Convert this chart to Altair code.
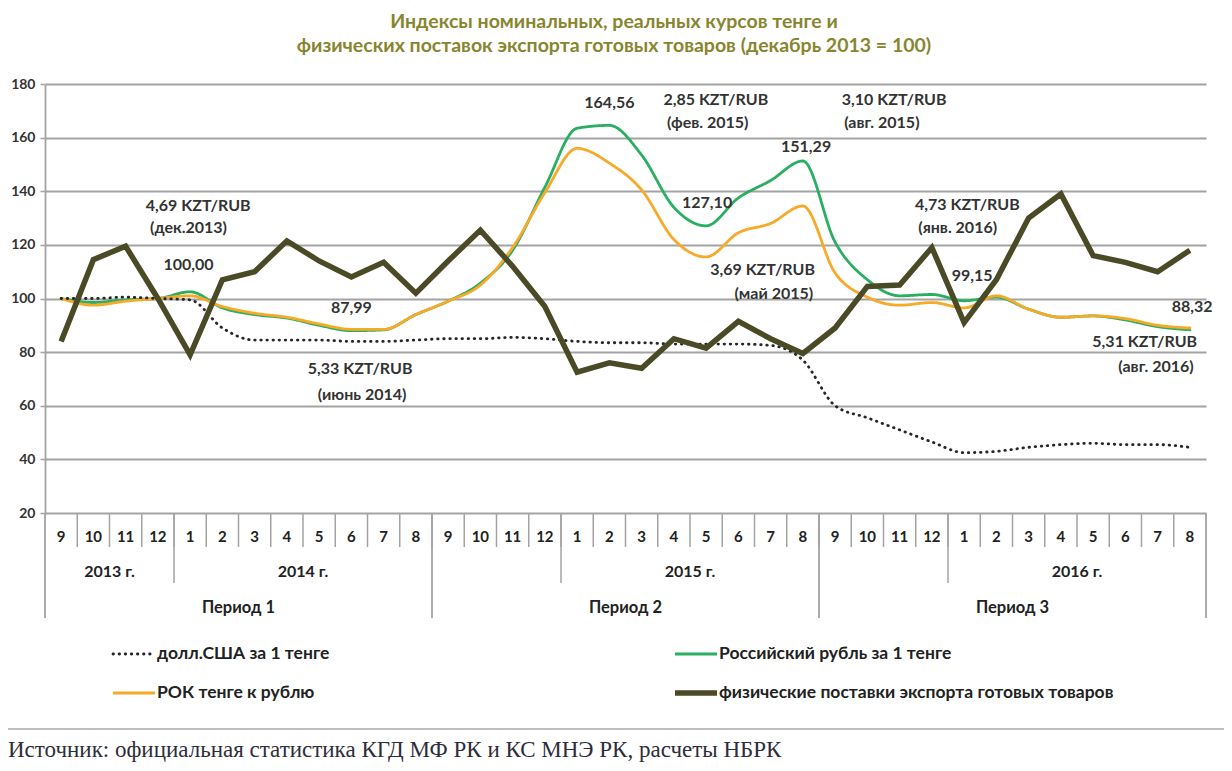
import altair as alt
import pandas as pd

# ---------------- data ----------------
months = [9, 10, 11, 12] + list(range(1, 13)) + list(range(1, 13)) + list(range(1, 9))
year_labels = (["2013 г.", "", "", "", "2014 г."] + [""] * 11 + ["2015 г."] + [""] * 11
               + ["2016 г."] + [""] * 7)
period_labels = ["Период 1"] * 12 + ["Период 2"] * 12 + ["Период 3"] * 12

series_names = [
    "долл.США за 1 тенге",
    "Российский рубль за 1 тенге",
    "РОК тенге к рублю",
    "физические поставки экспорта готовых товаров",
]

usd = [100, 100, 100.5, 100, 99.5, 89, 84.5, 84.5, 84.5, 84, 84, 84.5,
       85, 85, 85.5, 85, 84, 83.5, 83.5, 83, 83, 83, 82.5, 77,
       60, 55.5, 51, 46.5, 42.5, 43, 44.5, 45.5, 46, 45.5, 45.5, 44.5]
rub = [100, 98.5, 99.5, 100, 102.5, 96.5, 94, 92.7, 90, 88, 88.3, 94,
       99, 105.7, 118, 141.5, 163.5, 164.56, 153.5, 134, 127.1, 137.5, 144, 151.29,
       121, 107, 101, 101.5, 99.15, 100.5, 96, 93, 93.5, 92, 89.5, 88.32]
reer = [100, 97.5, 99, 100, 101, 97, 94.5, 93, 90.5, 88.5, 88.5, 94,
        99, 105, 119, 139.5, 156, 150.5, 140.5, 122, 115.5, 124.5, 128, 134.5,
        109.5, 100.5, 97.5, 98.5, 96.5, 101, 96, 93, 93.5, 92.5, 90, 89]
export = [84, 114.5, 119.5, 100, 79, 107, 110, 121.5, 114, 108, 113.5, 102,
          114, 125.5, 112, 97, 72.5, 76, 74, 85, 81.5, 91.5, 85, 79.5,
          89, 104.5, 105, 119, 91, 107, 130, 139, 116, 113.5, 110, 118]

ann_text = ["4,69 KZT/RUB", "(дек.2013)", "100,00", "87,99", "5,33 KZT/RUB", "(июнь 2014)",
            "164,56", "2,85 KZT/RUB", "(фев. 2015)", "151,29", "127,10", "3,69 KZT/RUB",
            "(май 2015)", "3,10 KZT/RUB", "(авг. 2015)", "4,73 KZT/RUB", "(янв. 2016)",
            "99,15", "88,32", "5,31 KZT/RUB", "(авг. 2016)"]
ann_month = [4.25, 3.95, 3.95, 9.0, 9.27, 9.33,
             17.0, 20.3, 20.05, 23.1, 20.03, 21.75,
             22.1, 25.83, 25.45, 28.1, 27.8,
             28.25, 35.07, 33.6, 33.95]
ann_value = [134.4, 126.2, 112.5, 96.3, 73.7, 64.0,
             172.9, 174.0, 165.5, 156.6, 135.6, 110.6,
             101.8, 174.0, 165.5, 134.9, 126.3,
             108.4, 96.8, 83.7, 74.5]

title_lines = ["Индексы номинальных, реальных курсов тенге и",
               "физических поставок экспорта готовых товаров (декабрь 2013 = 100)"]
source_text = "Источник: официальная статистика КГД МФ РК и КС МНЭ РК, расчеты НБРК"

# ---------------- styles ----------------
FONT = "Lato"
colors = ["#262626", "#2aae62", "#f7a928", "#4b4a27"]
dashes = [[0.5, 5.6], [1, 0], [1, 0], [1, 0]]
TXT = "#333333"
GRID = "#a3a3a3"
W, H = 1161, 429

n = len(months)
idx = list(range(n))

series_vals = {series_names[0]: usd, series_names[1]: rub,
               series_names[2]: reer, series_names[3]: export}
draw_order = [series_names[1], series_names[2], series_names[0], series_names[3]]
rows = []
for s in draw_order:
    for i, v in zip(idx, series_vals[s]):
        rows.append({"i": i, "v": v, "series": s})
df = pd.DataFrame(rows)

xscale = alt.Scale(domain=[-0.5, n - 0.5], nice=False, zero=False)
yscale = alt.Scale(domain=[20, 180], nice=False, zero=False)
cscale = alt.Scale(domain=series_names, range=colors)
dscale = alt.Scale(domain=series_names, range=dashes)

yaxis = alt.Axis(values=list(range(20, 181, 20)), grid=True, gridColor=GRID, gridWidth=1.8,
                 domainColor=GRID, domainWidth=1.8, tickColor=GRID, tickWidth=1.5, tickSize=5,
                 labelFont=FONT, labelFontSize=14, labelFontWeight="bold", labelColor=TXT,
                 labelPadding=5, title=None)

base = alt.Chart(df)
thin = base.transform_filter(
    alt.datum.series != series_names[3]
).mark_line(interpolate="monotone", strokeWidth=2.8, strokeCap="round").encode(
    x=alt.X("i:Q", scale=xscale, axis=None),
    y=alt.Y("v:Q", scale=yscale, axis=yaxis),
    color=alt.Color("series:N", scale=cscale, legend=None),
    strokeDash=alt.StrokeDash("series:N", scale=dscale, legend=None),
    detail="series:N",
)
thick = base.transform_filter(
    alt.datum.series == series_names[3]
).mark_line(strokeWidth=5.5, strokeJoin="miter").encode(
    x=alt.X("i:Q", scale=xscale, axis=None),
    y=alt.Y("v:Q", scale=yscale, axis=yaxis),
    color=alt.Color("series:N", scale=cscale, legend=None),
)

# ---------------- category table under the plot ----------------
cat = pd.DataFrame({"i": idx, "m": [str(m) for m in months],
                    "year": year_labels, "period": period_labels})
month_text = alt.Chart(cat).mark_text(font=FONT, fontSize=15, fontWeight="bold",
                                      color="#222222", baseline="middle").encode(
    x=alt.X("i:Q", scale=xscale, axis=None), y=alt.value(453), text="m:N")

bounds = pd.DataFrame({"b": [i - 0.5 for i in range(1, n)]})
month_sep = alt.Chart(bounds).mark_rule(color=GRID, strokeWidth=1.5).encode(
    x=alt.X("b:Q", scale=xscale, axis=None), y=alt.value(H), y2=alt.value(463))

# year groups (a label starts a group; groups break at period boundaries)
groups = []
cur = None
for i in idx:
    new_period = i == 0 or period_labels[i] != period_labels[i - 1]
    if year_labels[i] or new_period:
        cur = {"label": year_labels[i], "start": i, "end": i}
        groups.append(cur)
    else:
        cur["end"] = i
ydf = pd.DataFrame([{"label": g["label"], "c": (g["start"] + g["end"]) / 2} for g in groups if g["label"]])
year_text = alt.Chart(ydf).mark_text(font=FONT, fontSize=16, fontWeight="bold",
                                     color="#222222", baseline="middle").encode(
    x=alt.X("c:Q", scale=xscale, axis=None), y=alt.value(488), text="label:N")
ysep = pd.DataFrame({"b": [i - 0.5 for i in idx if i > 0 and year_labels[i]]})
year_sep = alt.Chart(ysep).mark_rule(color=GRID, strokeWidth=1.5).encode(
    x=alt.X("b:Q", scale=xscale, axis=None), y=alt.value(H), y2=alt.value(499))

pstarts = [i for i in idx if i == 0 or period_labels[i] != period_labels[i - 1]]
pdf = pd.DataFrame({"label": [period_labels[s] for s in pstarts],
                    "c": [(s + (pstarts[k + 1] if k + 1 < len(pstarts) else n) - 1) / 2
                          for k, s in enumerate(pstarts)]})
period_text = alt.Chart(pdf).mark_text(font=FONT, fontSize=16.5, fontWeight="bold",
                                       color="#222222", baseline="middle").encode(
    x=alt.X("c:Q", scale=xscale, axis=None), y=alt.value(524), text="label:N")
psep = pd.DataFrame({"b": [s - 0.5 for s in pstarts] + [n - 0.5]})
period_sep = alt.Chart(psep).mark_rule(color=GRID, strokeWidth=1.8).encode(
    x=alt.X("b:Q", scale=xscale, axis=None), y=alt.value(H), y2=alt.value(534))

# ---------------- annotations ----------------
adf = pd.DataFrame({"t": ann_text, "i": ann_month, "v": ann_value})
ann = alt.Chart(adf).mark_text(font=FONT, fontSize=16, fontWeight="bold", color=TXT,
                               baseline="middle").encode(
    x=alt.X("i:Q", scale=xscale, axis=None), y=alt.Y("v:Q", scale=yscale, axis=yaxis), text="t:N")

# ---------------- title & source ----------------
tdf = pd.DataFrame({"t": title_lines})
title1 = alt.Chart(tdf.iloc[[0]]).mark_text(font=FONT, fontSize=19.5, fontWeight="bold",
                                            color="#87862f", baseline="middle").encode(
    x=alt.value(569), y=alt.value(-62), text="t:N")
title2 = alt.Chart(tdf.iloc[[1]]).mark_text(font=FONT, fontSize=19.5, fontWeight="bold",
                                            color="#87862f", baseline="middle").encode(
    x=alt.value(569), y=alt.value(-38), text="t:N")
src = alt.Chart(pd.DataFrame({"t": [source_text]})).mark_text(
    font="Liberation Serif", fontSize=23, color="#2e2e3a", align="left", baseline="middle").encode(
    x=alt.value(-37), y=alt.value(666), text="t:N")

one = pd.DataFrame({"a": [0]})
frame_r = alt.Chart(one).mark_rule(color="#b5b5b5", strokeWidth=1.5).encode(
    x=alt.value(1181), y=alt.value(-76), y2=alt.value(645))
frame_b = alt.Chart(one).mark_rule(color="#a8a8a8", strokeWidth=1.5).encode(
    x=alt.value(-37), x2=alt.value(1181), y=alt.value(645))

# ---------------- legend (manual) ----------------
leg_layers = []
for k, name in enumerate(series_names):
    col, row = k % 2, k // 2
    x0 = 68 + col * 562
    y0 = 570 + row * 39
    ldf = pd.DataFrame({"series": [name]})
    sw = 5.5 if k == 3 else (2.8 if k == 0 else 3)
    leg_layers.append(alt.Chart(ldf).mark_rule(strokeWidth=sw, strokeCap="round" if k == 0 else "butt").encode(
        x=alt.value(x0), x2=alt.value(x0 + 42), y=alt.value(y0),
        color=alt.Color("series:N", scale=cscale, legend=None),
        strokeDash=alt.StrokeDash("series:N", scale=dscale, legend=None)))
    leg_layers.append(alt.Chart(ldf).mark_text(font=FONT, fontSize=17.5, fontWeight="bold",
                                               color="#222222", align="left", baseline="middle").encode(
        x=alt.value(x0 + 44), y=alt.value(y0), text="series:N"))

chart = alt.layer(
    month_sep, year_sep, period_sep, thin, thick, month_text, year_text, period_text,
    ann, title1, title2, src, frame_r, frame_b, *leg_layers
).properties(
    width=W, height=H,
    padding={"left": 37, "top": 76, "right": 18, "bottom": 250},
    autosize=alt.AutoSizeParams(type="none"),
    background="white",
).configure_view(stroke=None)

chart.save("out.html", embed_options={"renderer": "svg", "actions": False})
